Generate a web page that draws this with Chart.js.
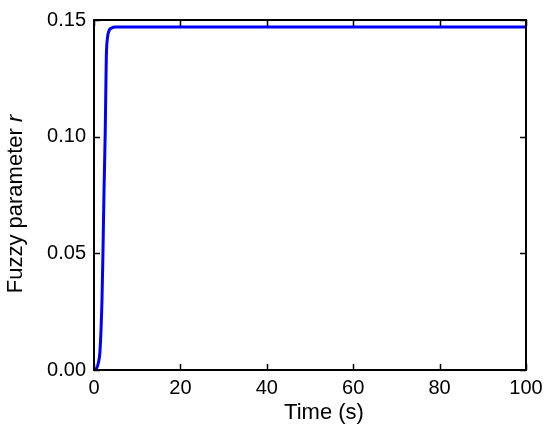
<!DOCTYPE html>
<html><head><meta charset="utf-8">
<script src="https://cdn.jsdelivr.net/npm/chart.js@4/dist/chart.umd.min.js"></script>
<style>html,body{margin:0;padding:0;background:#fff}#wrap{width:550px;height:432px}</style>
</head><body><div id="wrap"><canvas id="c" width="550" height="432"></canvas></div>
<script>
const timeValues = [0, 0.5, 1.0, 1.4, 1.85, 2.08, 2.3, 2.6, 2.85, 3.1, 3.5, 4.0, 5.0, 10, 20, 40, 60, 80, 100];
const rValues    = [0, 0.0004, 0.003, 0.0085, 0.030, 0.051, 0.075, 0.102, 0.134, 0.142, 0.1455, 0.1465, 0.147, 0.147, 0.147, 0.147, 0.147, 0.147, 0.147];
const xTicks = [0, 20, 40, 60, 80, 100];
const yTicks = [0, 0.05, 0.10, 0.15];
const xTitle = "Time (s)";
const yTitleMain = "Fuzzy parameter ";
const yTitleItalic = "r";

const FONT = "'Liberation Sans', Arial, sans-serif";

const framePlugin = {
  id: 'frame',
  afterDraw(chart) {
    const ctx = chart.ctx, a = chart.chartArea;
    const xs = chart.scales.x, ys = chart.scales.y;
    ctx.save();
    ctx.strokeStyle = '#000';
    ctx.lineWidth = 2;
    ctx.strokeRect(a.left, a.top, a.right - a.left, a.bottom - a.top);
    ctx.lineWidth = 1.5;
    const tl = 6;
    ctx.beginPath();
    xTicks.forEach(v => {
      const px = Math.round(xs.getPixelForValue(v)) + 0.5;
      ctx.moveTo(px, a.bottom); ctx.lineTo(px, a.bottom - tl);
      ctx.moveTo(px, a.top); ctx.lineTo(px, a.top + tl);
    });
    yTicks.forEach(v => {
      const py = Math.round(ys.getPixelForValue(v)) + 0.5;
      ctx.moveTo(a.left, py); ctx.lineTo(a.left + tl, py);
      ctx.moveTo(a.right, py); ctx.lineTo(a.right - tl, py);
    });
    ctx.stroke();
    // titles
    ctx.fillStyle = '#000';
    ctx.font = "22px " + FONT;
    ctx.textAlign = 'center';
    ctx.textBaseline = 'alphabetic';
    ctx.fillText(xTitle, 324, 419);
    ctx.save();
    ctx.translate(22, 204);
    ctx.rotate(-Math.PI / 2);
    ctx.font = "22px " + FONT;
    const w1 = ctx.measureText(yTitleMain).width;
    ctx.font = "italic 22px " + FONT;
    const w2 = ctx.measureText(yTitleItalic).width;
    const start = -(w1 + w2) / 2;
    ctx.textAlign = 'left';
    ctx.font = "22px " + FONT;
    ctx.fillText(yTitleMain, start, 0);
    ctx.font = "italic 22px " + FONT;
    ctx.fillText(yTitleItalic, start + w1, 0);
    ctx.restore();
    ctx.restore();
  }
};

new Chart(document.getElementById('c'), {
  type: 'line',
  data: {
    datasets: [{
      data: timeValues.map((t, i) => ({x: t, y: rValues[i]})),
      borderColor: '#0000ff',
      borderWidth: 3,
      pointRadius: 0,
      tension: 0.3,
      cubicInterpolationMode: 'monotone',
      fill: false
    }]
  },
  options: {
    responsive: false,
    animation: false,
    layout: { padding: { top: 18, right: 24, left: 0, bottom: 0 } },
    plugins: { legend: { display: false }, tooltip: { enabled: false } },
    scales: {
      x: {
        type: 'linear', min: 0, max: 100,
        afterBuildTicks: s => { s.ticks = xTicks.map(v => ({value: v})); },
        afterFit: s => { s.height = 62; },
        grid: { display: false, drawTicks: false },
        border: { display: false },
        ticks: { color: '#000', font: { family: FONT, size: 20 }, padding: 6, maxRotation: 0,
          callback: v => String(v) }
      },
      y: {
        type: 'linear', min: 0, max: 0.15,
        afterBuildTicks: s => { s.ticks = yTicks.map(v => ({value: v})); },
        afterFit: s => { s.width = 94; },
        grid: { display: false, drawTicks: false },
        border: { display: false },
        ticks: { color: '#000', font: { family: FONT, size: 20 }, padding: 8,
          callback: v => Number(v).toFixed(2) }
      }
    }
  },
  plugins: [framePlugin]
});
</script></body></html>
